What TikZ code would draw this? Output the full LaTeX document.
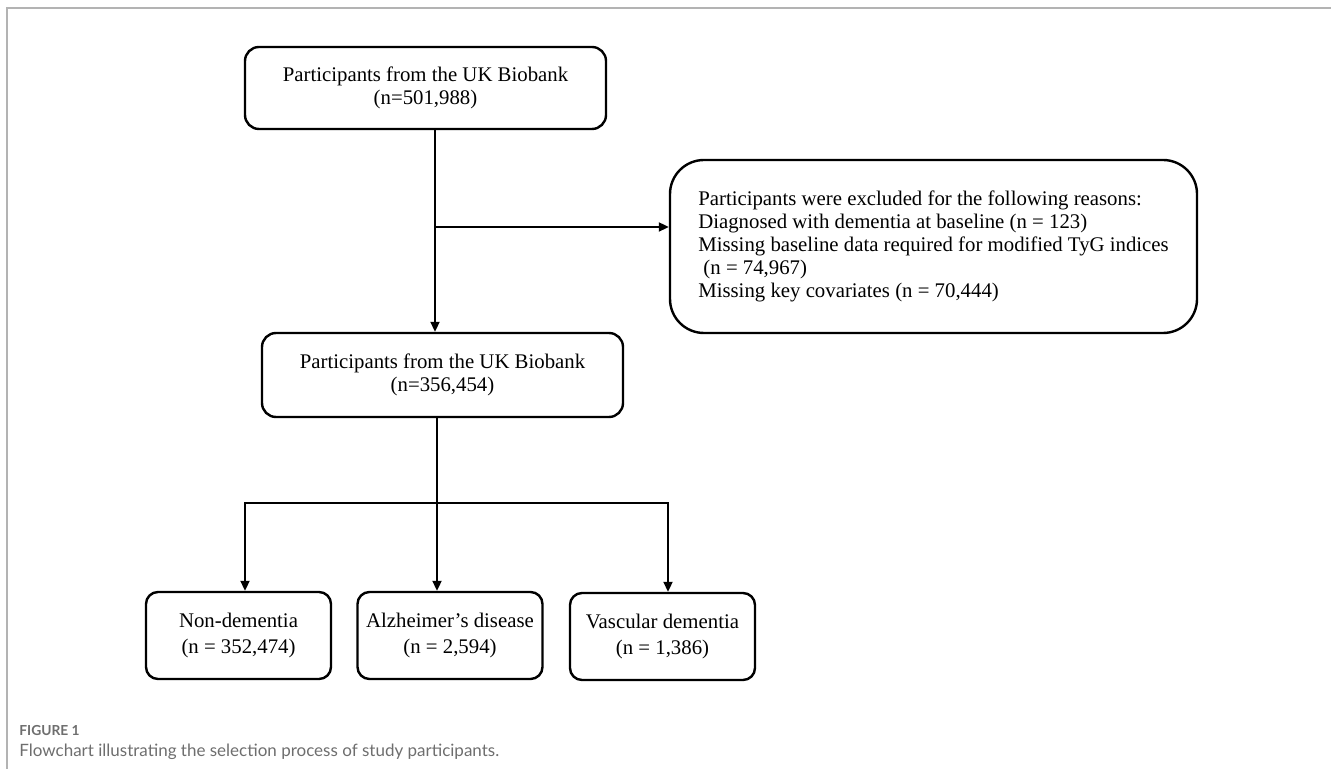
\documentclass[tikz,border=0pt]{standalone}
\usepackage{fontspec}
\setmainfont{Liberation Serif}
\newfontfamily\captionfont{Lato}
\usetikzlibrary{arrows.meta}

\definecolor{framegray}{HTML}{B3B3B3}
\definecolor{captiongray}{HTML}{6E6E6E}

\begin{document}
\begin{tikzpicture}[x=0.5pt, y=-0.5pt,
  flowbox/.style={draw, line width=1.2pt, rounded corners=7pt, align=center, inner sep=0pt,
    font=\fontsize{10.4}{11.6}\selectfont},
  groupbox/.style={flowbox, rounded corners=6pt, minimum width=92.5pt, minimum height=43.5pt,
    font=\fontsize{10.4}{13}\selectfont},
  flowline/.style={line width=1pt},
  flowarrow/.style={line width=1pt, -{Triangle[length=5pt,width=4.5pt]}}]

\useasboundingbox (0,0) rectangle (1331,769);

% Page frame
\draw[framegray, line width=1pt] (7,769) -- (7,8) -- (1331,8);

% All participants
\node[flowbox, minimum width=180.5pt, minimum height=41pt] (total) at (425.5,88)
  {Participants from the UK Biobank\\(n=501,988)};

% Exclusions
\node[flowbox, rounded corners=17pt, align=left, minimum width=263.5pt, minimum height=86.5pt] (excluded) at (933.5,246.5)
  {Participants were excluded for the following reasons:\\
   Diagnosed with dementia at baseline (n = 123)\\
   Missing baseline data required for modified TyG indices\\
   \ (n = 74,967)\\
   Missing key covariates (n = 70,444)};

% Included participants
\node[flowbox, minimum width=180.5pt, minimum height=42pt] (included) at (442.5,375)
  {Participants from the UK Biobank\\(n=356,454)};

% Outcome groups
\node[groupbox] (nondem) at (238.5,635.5) {Non-dementia\\(n = 352,474)};
\node[groupbox] (alz) at (450,635.5) {Alzheimer's disease\\(n = 2,594)};
\node[groupbox] (vasc) at (662.5,636.5) {Vascular dementia\\(n = 1,386)};

% Exclusion branch
\coordinate (branch) at (435,227);
\draw[flowline] (total.south -| branch) -- (branch);
\draw[flowarrow] (branch) -- (included.north -| branch);
\draw[flowarrow] (branch) -- (excluded.west |- branch);

% Split into outcome groups
\coordinate (split) at (437,503);
\coordinate (splitleft) at (245,503);
\coordinate (splitright) at (668,503);
\draw[flowarrow] (included.south -| split) -- (alz.north -| split);
\draw[flowarrow] (split) -| (nondem.north -| splitleft);
\draw[flowarrow] (split) -| (vasc.north -| splitright);

% Caption
\node[anchor=base west, inner sep=0pt, text=captiongray, font=\captionfont\bfseries\fontsize{6.9}{8}\selectfont] (figlabel) at (19,735) {FIGURE 1};
\node[anchor=base west, inner sep=0pt, text=captiongray, font=\captionfont\fontsize{8.5}{10}\selectfont] (figtext) at (19,756)
  {Flowchart illustrating the selection process of study participants.};

\end{tikzpicture}
\end{document}
